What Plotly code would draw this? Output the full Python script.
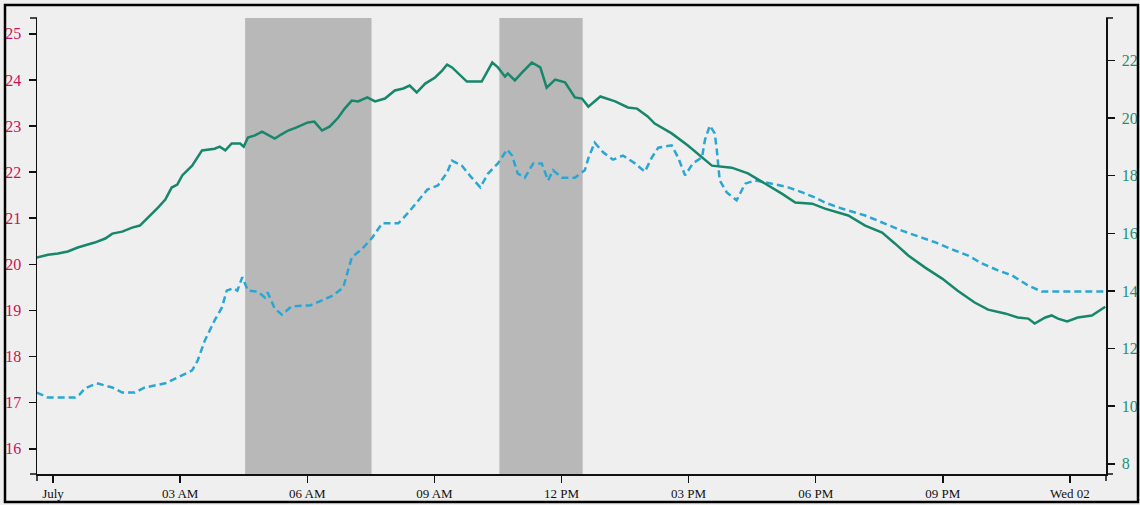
import plotly.graph_objects as go

DAY = "2014-07-01 "

# ---------------- data ----------------
green_time = (["2014-06-30 23:37", "2014-06-30 23:53"] +
              [DAY + t for t in (
                  "00:07 00:21 00:35 00:50 00:59 01:14 01:24 01:38 01:52 02:03 "
                  "02:10 02:20 02:29 02:39 02:48 02:56 03:03 03:17 03:24 03:31 "
                  "03:49 03:56 04:04 04:13 04:25 04:30 04:36 04:46 04:56 05:04 "
                  "05:14 05:23 05:33 05:44 06:01 06:10 06:21 06:32 06:44 06:53 "
                  "07:03 07:12 07:25 07:36 07:50 08:04 08:16 08:25 08:35 08:47 "
                  "09:01 09:11 09:18 09:25 09:33 09:46 10:07 10:15 10:22 10:30 "
                  "10:40 10:44 10:54 11:04 11:18 11:30 11:39 11:51 12:05 12:19 "
                  "12:29 12:38 12:55 13:16 13:34 13:47 14:02 14:12 14:36 14:59 "
                  "15:19 15:33 16:01 16:24 16:48 17:12 17:31 17:55 18:13 18:46 "
                  "19:10 19:34 19:52 20:11 20:35 20:59 21:21 21:45 22:04 22:28 "
                  "22:46 23:01 23:10 23:25 23:34 23:43 23:56").split()] +
              ["2014-07-02 00:11", "2014-07-02 00:31", "2014-07-02 00:50"])
green_value = [15.16, 15.26, 15.30, 15.37, 15.51, 15.61, 15.68, 15.82, 15.99, 16.06,
               16.20, 16.27, 16.44, 16.65, 16.90, 17.17, 17.59, 17.69, 18.01, 18.35,
               18.60, 18.88, 18.94, 19.01, 18.88, 19.12, 19.12, 19.01, 19.33, 19.40,
               19.53, 19.43, 19.29, 19.43, 19.57, 19.67, 19.85, 19.88, 19.57, 19.71,
               20.02, 20.33, 20.61, 20.58, 20.72, 20.58, 20.68, 20.96, 21.03, 21.13,
               20.89, 21.20, 21.41, 21.65, 21.86, 21.76, 21.58, 21.27, 21.27, 21.65,
               21.93, 21.76, 21.44, 21.55, 21.31, 21.58, 21.93, 21.76, 21.06, 21.34,
               21.24, 20.72, 20.68, 20.40, 20.75, 20.58, 20.37, 20.33, 20.06, 19.81,
               19.47, 19.05, 18.63, 18.35, 18.28, 18.08, 17.73, 17.38, 17.07, 17.03,
               16.86, 16.62, 16.27, 16.03, 15.65, 15.23, 14.81, 14.43, 14.01, 13.60,
               13.35, 13.22, 13.08, 13.04, 12.87, 13.08, 13.15, 13.04, 12.94, 13.08,
               13.15, 13.45]

dash_time = (["2014-06-30 23:37", "2014-06-30 23:53"] +
             [DAY + t for t in (
                 "00:31 00:38 00:45 01:02 01:14 01:24 01:38 01:56 02:10 02:39 "
                 "02:57 03:17 03:25 03:35 03:49 03:59 04:06 04:15 04:21 04:28 "
                 "04:36 04:50 05:00 05:04 05:14 05:24 05:38 06:04 06:21 06:36 "
                 "06:51 06:58 07:03 07:18 07:32 07:46 08:09 08:23 08:37 08:50 "
                 "09:05 09:18 09:25 09:39 09:50 10:05 10:16 10:30 10:43 10:50 "
                 "10:58 11:08 11:20 11:32 11:41 11:48 12:01 12:19 12:33 12:38 "
                 "12:47 12:59 13:13 13:27 13:44 13:58 14:08 14:17 14:36 14:45 "
                 "14:55 15:06 15:19 15:23 15:30 15:37 15:40 15:44 15:54 16:08 "
                 "16:20 16:34 16:58 17:21 17:41 17:59 18:13 18:37 19:10 19:34 "
                 "20:02 20:30 20:49 21:17 21:36 21:55 22:18 22:38 23:01 23:20 "
                 "23:57").split()] +
             ["2014-07-02 00:50"])
dash_value = [17.22, 17.11, 17.11, 17.18, 17.31, 17.42, 17.37, 17.33, 17.22, 17.22,
              17.33, 17.42, 17.55, 17.70, 17.92, 18.35, 18.79, 19.06, 19.43, 19.48,
              19.43, 19.72, 19.43, 19.41, 19.28, 19.39, 19.04, 18.91, 19.09, 19.11,
              19.22, 19.32, 19.50, 19.87, 20.15, 20.34, 20.58, 20.89, 20.89, 21.12,
              21.39, 21.62, 21.71, 21.99, 22.25, 22.14, 21.93, 21.67, 21.97, 22.19,
              22.49, 22.36, 21.97, 21.88, 22.19, 22.19, 21.82, 22.04, 21.88, 21.88,
              22.04, 22.30, 22.64, 22.43, 22.27, 22.36, 22.19, 22.01, 22.32, 22.53,
              22.58, 22.32, 21.93, 22.19, 22.32, 22.69, 23.01, 22.84, 22.47, 21.82,
              21.56, 21.39, 21.75, 21.82, 21.75, 21.67, 21.56, 21.45, 21.34, 21.21,
              21.06, 20.91, 20.73, 20.58, 20.48, 20.30, 20.19, 20.02, 19.87, 19.76,
              19.54, 19.41, 19.41, 19.41]

shade_start = [DAY + "04:32", DAY + "10:32"]
shade_end = [DAY + "07:31", DAY + "12:30"]

x_tick_vals = [DAY + "00:00", DAY + "03:00", DAY + "06:00", DAY + "09:00", DAY + "12:00",
               DAY + "15:00", DAY + "18:00", DAY + "21:00", "2014-07-02 00:00"]
x_tick_text = ["July", "03 AM", "06 AM", "09 AM", "12 PM", "03 PM", "06 PM", "09 PM", "Wed 02"]
left_ticks = [16, 17, 18, 19, 20, 21, 22, 23, 24, 25]
right_ticks = [8, 10, 12, 14, 16, 18, 20, 22]

assert len(green_time) == len(green_value), (len(green_time), len(green_value))
assert len(dash_time) == len(dash_value), (len(dash_time), len(dash_value))

# ---------------- styles ----------------
BG = "#efefef"
SHADE = "#b8b8b8"
GREEN = "#17876b"
BLUE = "#2aa6d2"
LEFT_LABEL = "#c8145a"
RIGHT_LABEL = "#1a8f7a"
AXIS = "#111111"
FONT = "Liberation Serif"

fig = go.Figure()
fig.add_trace(go.Scatter(x=dash_time, y=dash_value, mode="lines", yaxis="y",
                         line=dict(color=BLUE, width=2.5, dash="7px,4px"),
                         hoverinfo="skip"))
fig.add_trace(go.Scatter(x=green_time, y=green_value, mode="lines", yaxis="y2",
                         line=dict(color=GREEN, width=2.5), hoverinfo="skip"))

shapes = []
for s, e in zip(shade_start, shade_end):
    shapes.append(dict(type="rect", xref="x", yref="paper", x0=s, x1=e, y0=0, y1=1,
                       fillcolor=SHADE, line=dict(width=0), layer="below"))

# d3-like outer ticks at the ends of each axis
def pline(**kw):
    d = dict(type="line", line=dict(color=AXIS, width=1.5), layer="above")
    d.update(kw)
    return d

for yy in (0, 1):
    shapes.append(pline(xref="paper", xsizemode="pixel", xanchor=0, x0=-7, x1=0,
                        yref="paper", y0=yy, y1=yy))
    shapes.append(pline(xref="paper", xsizemode="pixel", xanchor=1, x0=0, x1=7,
                        yref="paper", y0=yy, y1=yy))
for xx in (0, 1):
    shapes.append(pline(xref="paper", x0=xx, x1=xx, yref="paper",
                        ysizemode="pixel", yanchor=0, y0=-7, y1=0))

# outer frame of the picture
shapes.append(dict(type="rect", xref="paper", xsizemode="pixel", xanchor=0, x0=-32, x1=1101,
                   yref="paper", ysizemode="pixel", yanchor=0, y0=-28, y1=469,
                   line=dict(color="#000000", width=2.5), fillcolor="rgba(0,0,0,0)",
                   layer="above"))

fig.update_layout(
    width=1140, height=505,
    margin=dict(l=37, r=34, t=18, b=31, autoexpand=False),
    paper_bgcolor=BG, plot_bgcolor=BG,
    showlegend=False,
    font=dict(family=FONT),
    shapes=shapes,
    xaxis=dict(type="date", range=["2014-06-30 23:37:20", "2014-07-02 00:51"],
               tickmode="array", tickvals=x_tick_vals, ticktext=x_tick_text,
               automargin=False,
               showline=True, linecolor=AXIS, linewidth=1.5,
               ticks="outside", ticklen=7, tickwidth=1.5, tickcolor=AXIS,
               showgrid=False, zeroline=False,
               tickfont=dict(family=FONT, size=13, color="#111111")),
    yaxis=dict(range=[15.453, 25.343], tickmode="array", tickvals=left_ticks,
               automargin=False,
               showline=True, linecolor=AXIS, linewidth=1.5,
               ticks="outside", ticklen=7, tickwidth=1.5, tickcolor=AXIS,
               showgrid=False, zeroline=False, ticklabelstandoff=4,
               tickfont=dict(family=FONT, size=16, color=LEFT_LABEL)),
    yaxis2=dict(range=[7.646, 23.476], tickmode="array", tickvals=right_ticks,
                overlaying="y", side="right", anchor="x", automargin=False,
                showline=True, linecolor=AXIS, linewidth=1.5,
                ticks="outside", ticklen=7, tickwidth=1.5, tickcolor=AXIS,
                showgrid=False, zeroline=False, ticklabelstandoff=4,
                tickfont=dict(family=FONT, size=16, color=RIGHT_LABEL)),
)

fig.write_html(
    "out.html",
    config={"displayModeBar": False, "staticPlot": True},
    post_script="document.body.style.margin='0';document.body.style.padding='0';"
                "document.body.style.overflow='hidden';"
                "document.body.style.background='#efefef';",
)
